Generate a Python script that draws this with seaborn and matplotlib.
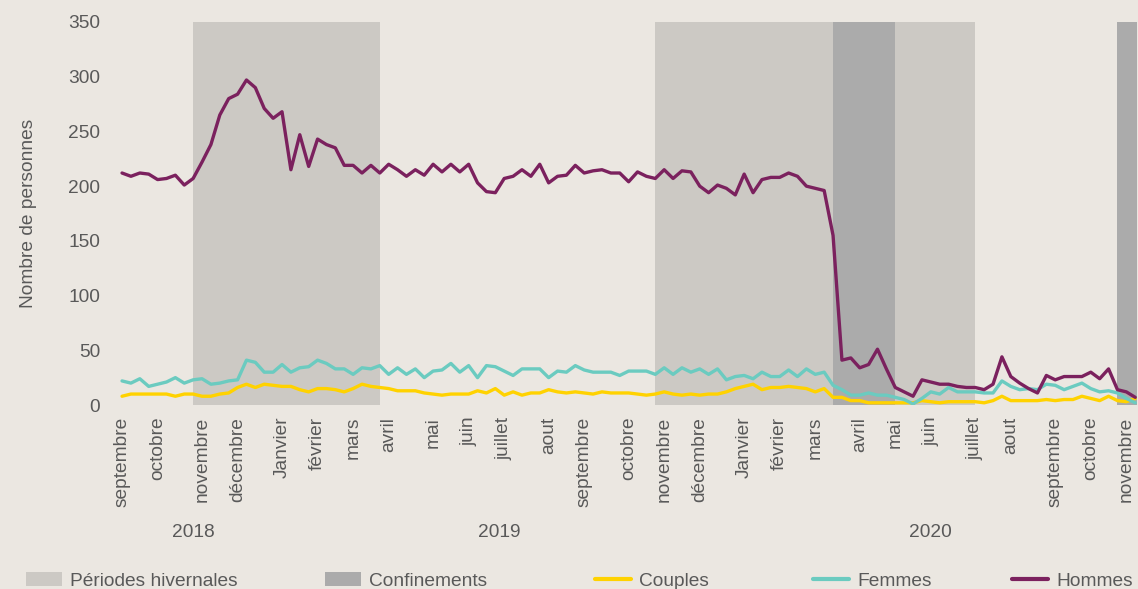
import pandas as pd
import seaborn as sns
import matplotlib.pyplot as plt
from matplotlib.patches import Patch
from matplotlib.lines import Line2D

# weekly counts, first week starting 2018-09-03
debut = "2018-09-03"

hommes = [212, 209, 212, 211, 206, 207, 210, 201, 207, 222,
          238, 265, 280, 284, 297, 290, 271, 262, 268, 215,
          247, 218, 243, 238, 235, 219, 219, 212, 219, 212,
          220, 215, 209, 215, 210, 220, 213, 220, 213, 220,
          203, 195, 194, 207, 209, 215, 209, 220, 203, 209,
          210, 219, 212, 214, 215, 212, 212, 204, 213, 209,
          207, 215, 207, 214, 213, 200, 194, 201, 198, 192,
          211, 194, 206, 208, 208, 212, 209, 200, 198, 196,
          155, 41, 43, 34, 37, 51, 33, 16, 12, 8,
          23, 21, 19, 19, 17, 16, 16, 14, 19, 44,
          26, 20, 15, 11, 27, 23, 26, 26, 26, 30,
          24, 33, 14, 12, 7]

femmes = [22, 20, 24, 17, 19, 21, 25, 20, 23, 24,
          19, 20, 22, 23, 41, 39, 30, 30, 37, 30,
          34, 35, 41, 38, 33, 33, 28, 34, 33, 36,
          28, 34, 28, 33, 25, 31, 32, 38, 30, 36,
          25, 36, 35, 31, 27, 33, 33, 33, 25, 31,
          30, 36, 32, 30, 30, 30, 27, 31, 31, 31,
          28, 34, 28, 34, 30, 33, 28, 33, 23, 26,
          27, 24, 30, 26, 26, 32, 26, 33, 28, 30,
          18, 14, 9, 9, 11, 9, 9, 7, 5, 1,
          6, 12, 10, 16, 12, 12, 12, 11, 11, 22,
          17, 14, 15, 14, 19, 18, 14, 17, 20, 15,
          12, 13, 11, 6, 2]

couples = [8, 10, 10, 10, 10, 10, 8, 10, 10, 8,
           8, 10, 11, 16, 19, 16, 19, 18, 17, 17,
           14, 12, 15, 15, 14, 12, 15, 19, 17, 16,
           15, 13, 13, 13, 11, 10, 9, 10, 10, 10,
           13, 11, 15, 9, 12, 9, 11, 11, 14, 12,
           11, 12, 11, 10, 12, 11, 11, 11, 10, 9,
           10, 12, 10, 9, 10, 9, 10, 10, 12, 15,
           17, 19, 14, 16, 16, 17, 16, 15, 12, 15,
           7, 7, 4, 4, 2, 2, 2, 2, 2, 2,
           4, 3, 2, 3, 3, 3, 3, 2, 4, 8,
           4, 4, 4, 4, 5, 4, 5, 5, 8, 6,
           4, 8, 4, 3, 6]

hivers = [("2018-10-29", "2019-03-25"), ("2019-10-28", "2020-07-06")]
confinements = [("2020-03-16", "2020-05-04"), ("2020-10-26", "2020-12-15")]

mois = ["septembre", "octobre", "novembre", "décembre",
        "Janvier", "février", "mars", "avril", "mai", "juin", "juillet",
        "aout", "septembre", "octobre", "novembre", "décembre",
        "Janvier", "février", "mars", "avril", "mai", "juin", "juillet",
        "aout", "septembre", "octobre", "novembre"]
annees = ["2018", "2019", "2020"]
pos_annees = ["2018-10-29", "2019-06-27", "2020-06-01"]

couleurs = {"Couples": "#FFD200", "Femmes": "#6BCBC0", "Hommes": "#7B215E"}
fond = "#EBE7E1"
gris_hiver = "#CCC9C4"
gris_conf = "#ABABAB"
texte = "#595959"
taille = 13.8

dates = pd.date_range(debut, periods=len(hommes), freq="7D")
df = pd.DataFrame({"date": dates, "Couples": couples, "Femmes": femmes, "Hommes": hommes})
long = df.melt(id_vars="date", var_name="groupe", value_name="personnes")

sns.set_style("white", {"axes.facecolor": fond, "figure.facecolor": fond})
plt.rcParams["font.family"] = ["Liberation Sans", "DejaVu Sans"]

fig = plt.figure(figsize=(11.38, 5.89), dpi=100)
ax = fig.add_axes([119.5 / 1138, 1 - 405 / 589, 1017 / 1138, 383 / 589])

for d0, d1 in hivers:
    ax.axvspan(pd.Timestamp(d0), pd.Timestamp(d1), color=gris_hiver, lw=0, zorder=0)
for d0, d1 in confinements:
    ax.axvspan(pd.Timestamp(d0), pd.Timestamp(d1), color=gris_conf, lw=0, zorder=0)

sns.lineplot(data=long, x="date", y="personnes", hue="groupe",
             hue_order=["Couples", "Femmes", "Hommes"], palette=couleurs,
             linewidth=2.4, legend=False, ax=ax, zorder=3)

ax.set_xlim(dates[0] - pd.Timedelta(days=2), dates[-1] + pd.Timedelta(days=1))
ax.set_ylim(0, 350)
ax.set_yticks(range(0, 351, 50))
# one label on the first week of each month
ticks_mois = df.groupby(df["date"].dt.to_period("M"))["date"].first()
ax.set_xticks(ticks_mois.values)
ax.set_xticklabels(mois, rotation=90, ha="center", va="top")
ax.tick_params(axis="x", length=0, pad=8.5, labelsize=taille, labelcolor=texte)
ax.tick_params(axis="y", length=0, pad=14, labelsize=taille, labelcolor=texte)
sns.despine(ax=ax, left=True, bottom=True)
ax.set_xlabel("")
ax.set_ylabel("Nombre de personnes", fontsize=taille, color=texte)
ax.yaxis.set_label_coords(-0.081, 0.5)

for a, p in zip(annees, pos_annees):
    ax.text(pd.Timestamp(p), -0.334, a, transform=ax.get_xaxis_transform(),
            ha="center", va="center", fontsize=taille, color=texte)

handles = [Patch(facecolor=gris_hiver, edgecolor="none", label="Périodes hivernales"),
           Patch(facecolor=gris_conf, edgecolor="none", label="Confinements")]
handles += [Line2D([0], [0], color=couleurs[k], lw=3, label=k) for k in ["Couples", "Femmes", "Hommes"]]
debuts_leg = [26, 325, 595, 813, 1012]
for h, x0 in zip(handles, debuts_leg):
    leg = fig.legend(handles=[h], loc="center left", bbox_to_anchor=(x0 / 1138, 0.0136),
                     frameon=False, fontsize=taille, handlelength=1.9,
                     handletextpad=0.42, borderpad=0, borderaxespad=0)
    for t in leg.get_texts():
        t.set_color(texte)

fig.savefig("out.png", dpi=100, facecolor=fond)
